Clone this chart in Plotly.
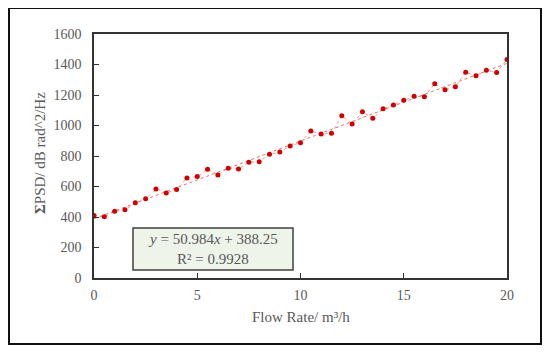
import plotly.graph_objects as go

flow_rate = [0, 0.5, 1, 1.5, 2, 2.5, 3, 3.5, 4, 4.5, 5, 5.5, 6, 6.5, 7, 7.5, 8, 8.5, 9, 9.5,
             10, 10.5, 11, 11.5, 12, 12.5, 13, 13.5, 14, 14.5, 15, 15.5, 16, 16.5, 17, 17.5,
             18, 18.5, 19, 19.5, 20]
psd_sum = [410, 401, 438, 447, 493, 519, 584, 558, 580, 656, 665, 713, 676, 720, 715, 759,
           763, 811, 826, 866, 887, 964, 944, 949, 1064, 1010, 1090, 1047, 1110, 1134, 1165,
           1191, 1189, 1274, 1234, 1254, 1350, 1326, 1363, 1348, 1433]
slope = 50.984
intercept = 388.25
r_squared = 0.9928
x_ticks = [0, 5, 10, 15, 20]
y_ticks = [0, 200, 400, 600, 800, 1000, 1200, 1400, 1600]

trend_x = [0, 20]
trend_y = [slope * v + intercept for v in trend_x]

# page body has an 8px margin; work in page pixels and convert
OFF = 8
W, H = 550 - OFF, 353 - OFF
L, T = 94 - OFF, 34 - OFF
pw, ph = 413, 244
R = W - L - pw
B = H - T - ph

def px(x):
    return (x - OFF - L) / pw

def py(y):
    return (T + ph - (y - OFF)) / ph

font_serif = "Liberation Serif, Times New Roman, serif"
gray = "#595959"

fig = go.Figure()
fig.add_trace(go.Scatter(
    x=trend_x, y=trend_y, mode="lines",
    line=dict(color="rgba(230,60,60,0.75)", width=1, dash="dot"),
    hoverinfo="skip", showlegend=False))
fig.add_trace(go.Scatter(
    x=flow_rate, y=psd_sum, mode="lines+markers",
    line=dict(color="rgba(240,110,110,0.7)", width=1, dash="dot"),
    marker=dict(color="#d00000", size=5),
    showlegend=False))

fig.update_layout(
    width=W, height=H,
    margin=dict(l=L, r=R, t=T, b=B, autoexpand=False),
    paper_bgcolor="white", plot_bgcolor="white",
    font=dict(family=font_serif, size=14, color=gray),
    xaxis=dict(range=[0, 20], tickvals=x_ticks, ticks="inside", ticklen=5,
               tickcolor="#333", showline=True, linecolor="#333", linewidth=1.5,
               mirror=True, showgrid=False, zeroline=False,
               tickfont=dict(family=font_serif, size=14, color=gray),
               ticklabelstandoff=3),
    yaxis=dict(range=[0, 1600], tickvals=y_ticks, ticks="inside", ticklen=5,
               tickcolor="#333", showline=True, linecolor="#333", linewidth=1.5,
               mirror=True, showgrid=False, zeroline=False,
               tickfont=dict(family=font_serif, size=14, color=gray),
               ticklabelstandoff=8),
)

# outer frame
fig.add_shape(type="rect", xref="paper", yref="paper",
              x0=px(9), x1=px(541), y0=py(344), y1=py(8),
              line=dict(color="#111", width=2), fillcolor="rgba(0,0,0,0)", layer="below")

# axis titles
fig.add_annotation(xref="paper", yref="paper", x=px(301), y=py(317),
                   xanchor="center", yanchor="middle",
                   text="Flow Rate/ m³/h", showarrow=False,
                   font=dict(family=font_serif, size=15, color=gray))
fig.add_annotation(xref="paper", yref="paper", x=px(40), y=py(153),
                   xanchor="center", yanchor="middle",
                   text="<b>Σ</b>PSD/ dB rad^2/Hz", showarrow=False, textangle=-90,
                   font=dict(family=font_serif, size=15, color=gray))

# equation box
fig.add_shape(type="rect", xref="paper", yref="paper",
              x0=px(133), x1=px(293), y0=py(270), y1=py(228),
              line=dict(color="#404040", width=1.5), fillcolor="#eef4ea")
fig.add_annotation(xref="paper", yref="paper", x=px(213), y=py(239),
                   xanchor="center", yanchor="middle",
                   text=f"<i>y</i> = {slope}<i>x</i> + {intercept}", showarrow=False,
                   font=dict(family=font_serif, size=15, color=gray))
fig.add_annotation(xref="paper", yref="paper", x=px(213), y=py(259),
                   xanchor="center", yanchor="middle",
                   text=f"R² = {r_squared}", showarrow=False,
                   font=dict(family=font_serif, size=15, color=gray))

fig.write_html("out.html")
